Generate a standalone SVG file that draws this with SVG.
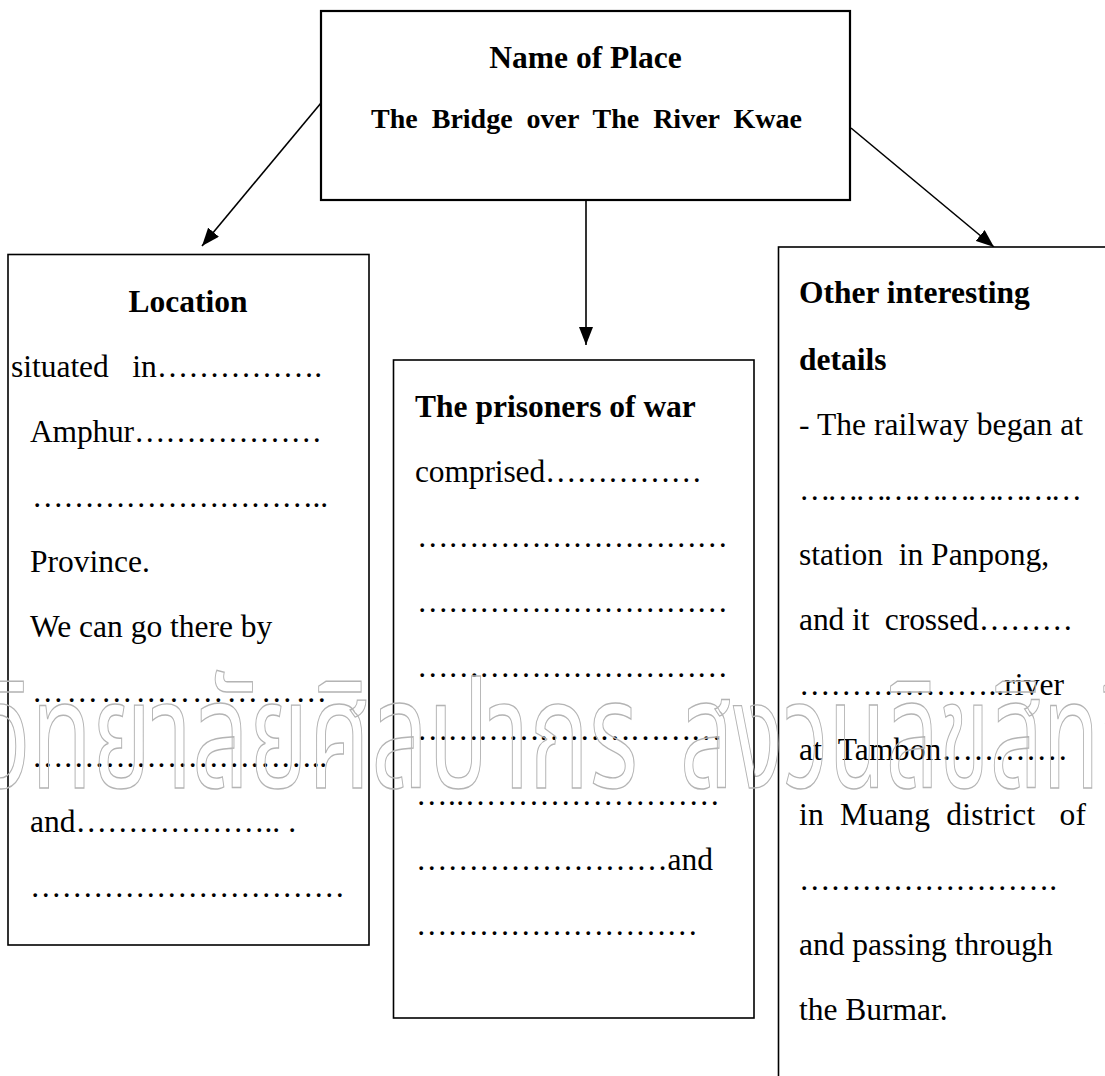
<svg xmlns="http://www.w3.org/2000/svg" width="1105" height="1076" viewBox="0 0 1105 1076">
<defs>
<marker id="arr" markerUnits="userSpaceOnUse" markerWidth="18" markerHeight="14" viewBox="0 0 18 14" refX="18" refY="7" orient="auto"><path d="M0,0 L18,7 L0,14 z" fill="#000"/></marker>
</defs>
<style>
.box{fill:#fff;stroke:#000;stroke-width:1.6}
.top{fill:#fff;stroke:#000;stroke-width:2.2}
.t{font-family:"Liberation Serif","Times New Roman",serif;font-size:31.5px;fill:#000;white-space:pre}
.b{font-weight:bold}
.c{stroke:#000;stroke-width:1.6;fill:none}
.wm{font-family:"Noto Sans Thai","Noto Serif Thai","Loma","Garuda","Norasi",sans-serif;font-size:150px;fill:none;stroke:#b4b4b4;stroke-width:1.4}
</style>
<rect width="1105" height="1076" fill="#fff"/>
<g id="connectors">
<line class="c" x1="321" y1="103" x2="202" y2="246" marker-end="url(#arr)"/>
<line class="c" x1="586" y1="200" x2="586" y2="345" marker-end="url(#arr)"/>
<line class="c" x1="851" y1="128" x2="994" y2="247" marker-end="url(#arr)"/>
</g>
<g id="node-name">
<rect class="top" x="321" y="11" width="529" height="189"/>
<text class="t b" x="585.5" y="68" text-anchor="middle">Name of Place</text>
<text class="t b" x="586.5" y="128" text-anchor="middle" style="font-size:28px">The  Bridge  over  The  River  Kwae</text>
</g>
<g id="node-location">
<rect class="box" x="8" y="254.5" width="361" height="690.5"/>
<text class="t b" x="188" y="312" text-anchor="middle">Location</text>
<text class="t" x="11" y="377" textLength="311">situated   in…………….</text>
<text class="t" x="30" y="442" textLength="292">Amphur………………</text>
<text class="t" x="32" y="507" textLength="296">………………………..</text>
<text class="t" x="30" y="572">Province.</text>
<text class="t" x="30" y="637">We can go there by</text>
<text class="t" x="32" y="702" textLength="295">…………..…………</text>
<text class="t" x="32" y="767" textLength="295">………………………..</text>
<text class="t" x="30" y="832" textLength="266">and……………….. .</text>
<text class="t" x="30" y="897" textLength="315">…………………………</text>
</g>
<g id="node-prisoners">
<rect class="box" x="393.5" y="360" width="360.5" height="658"/>
<text class="t b" x="415" y="417">The prisoners of war</text>
<text class="t" x="415" y="482" textLength="287">comprised……………</text>
<text class="t" x="417" y="547" textLength="311">…………………………</text>
<text class="t" x="417" y="612" textLength="311">…………………………</text>
<text class="t" x="417" y="677" textLength="311">…………………………</text>
<text class="t" x="417" y="740" textLength="305">…………………………</text>
<text class="t" x="416" y="805" textLength="304">…..……………………</text>
<text class="t" x="416" y="870" textLength="297">……………………and</text>
<text class="t" x="416" y="935" textLength="282">………………………</text>
</g>
<g id="node-other">
<rect class="box" x="778.5" y="247" width="340" height="840"/>
<text class="t b" x="799" y="303">Other interesting</text>
<text class="t b" x="799" y="370">details</text>
<text class="t" x="799" y="435" textLength="284">- The railway began at</text>
<text class="t" x="799" y="500" textLength="283">…………………………</text>
<text class="t" x="799" y="565">station  in Panpong,</text>
<text class="t" x="799" y="630" textLength="274">and it  crossed………</text>
<text class="t" x="799" y="695" textLength="265">………………..river</text>
<text class="t" x="799" y="760" textLength="269">at  Tambon…………</text>
<text class="t" x="799" y="825" textLength="287">in  Muang  district   of</text>
<text class="t" x="799" y="890" textLength="258">…………………….</text>
<text class="t" x="799" y="955">and passing through</text>
<text class="t" x="799" y="1020">the Burmar.</text>
</g>
<g id="watermark">
<text class="wm" x="-18" y="788" textLength="656" lengthAdjust="spacingAndGlyphs">วิทยาลัยศิลปากร</text>
<text class="wm" x="680" y="788" textLength="470" lengthAdjust="spacingAndGlyphs">สงวนลิขสิทธิ์</text>
</g>
</svg>
